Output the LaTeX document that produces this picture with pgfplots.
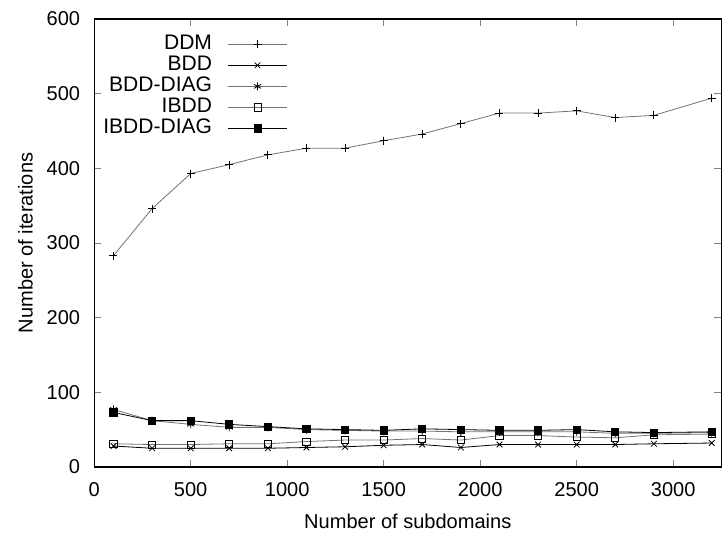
\documentclass[border=0pt]{standalone}
\usepackage{fontspec}
\setmainfont{Liberation Sans}
\usepackage{pgfplots}
\pgfplotsset{compat=1.18}

\definecolor{lgray}{gray}{0.45}

\begin{document}
\fontsize{10}{12}\selectfont
\begin{tikzpicture}
\begin{axis}[
  scale only axis,
  width=313pt, height=223.5pt,
  xmin=0, xmax=3250,
  ymin=0, ymax=600,
  xtick={0,500,...,3000},
  ytick={0,100,...,600},
  tick align=inside,
  major tick length=3.5pt,
  /pgf/number format/assume math mode=true,
  /pgf/number format/1000 sep={},
  xticklabel style={yshift=-4pt},
  yticklabel style={xshift=-3.5pt},
  xlabel={Number of subdomains},
  ylabel={Number of iterations},
  xlabel style={yshift=-2pt},
  ylabel style={yshift=0pt},
  axis line style={line width=0.6pt},
  every plot/.append style={line width=0.5pt},
  legend plot pos=right,
  legend cell align=right,
  legend image code/.code={\draw[mark repeat=2,mark phase=2,#1] plot coordinates {(0pt,0pt) (14.5pt,0pt) (29pt,0pt)};},
  legend style={draw=none, fill=none, at={(0.308,0.968)}, anchor=north east,
    row sep=0pt, column sep=8pt, inner sep=0pt,
    nodes={inner sep=0pt, text height=7.6pt, text depth=2.9pt, font=\fontsize{10.5}{12}\selectfont}},
]
\addplot[lgray, mark=+, mark size=2pt, mark options={black}] coordinates {
  (100,283) (300,346) (500,393) (700,405) (900,418) (1100,427) (1300,427) (1500,437)
  (1700,446) (1900,460) (2100,474) (2300,474) (2500,477) (2700,468) (2900,471) (3200,494)
};
\addlegendentry{DDM}
\addplot[black, mark=x, mark size=2pt, mark options={black}] coordinates {
  (100,28) (300,25) (500,25) (700,25) (900,25) (1100,26) (1300,27) (1500,29)
  (1700,30) (1900,26) (2100,30) (2300,30) (2500,30) (2700,30) (2900,31) (3200,32)
};
\addlegendentry{BDD}
\addplot[lgray, mark=asterisk, mark size=2pt, mark options={black}] coordinates {
  (100,77) (300,62) (500,57) (700,53) (900,53) (1100,50) (1300,49) (1500,48)
  (1700,48) (1900,47) (2100,47) (2300,47) (2500,47) (2700,45) (2900,45) (3200,46)
};
\addlegendentry{BDD-DIAG}
\addplot[lgray, mark=square, mark size=1.8pt, mark options={black, fill=white}] coordinates {
  (100,31) (300,30) (500,30) (700,31) (900,31) (1100,34) (1300,36) (1500,36)
  (1700,38) (1900,36) (2100,42) (2300,42) (2500,40) (2700,39) (2900,43) (3200,44)
};
\addlegendentry{IBDD}
\addplot[black, mark=square*, mark size=1.8pt, mark options={black, fill=black}] coordinates {
  (100,73) (300,62) (500,62) (700,57) (900,54) (1100,51) (1300,50) (1500,49)
  (1700,51) (1900,50) (2100,49) (2300,49) (2500,50) (2700,47) (2900,46) (3200,47)
};
\addlegendentry{IBDD-DIAG}
\end{axis}
\path (current axis.north west) ++(0,9.5pt);
\path (current axis.south west) ++(-47pt,-35.5pt);
\end{tikzpicture}
\end{document}
